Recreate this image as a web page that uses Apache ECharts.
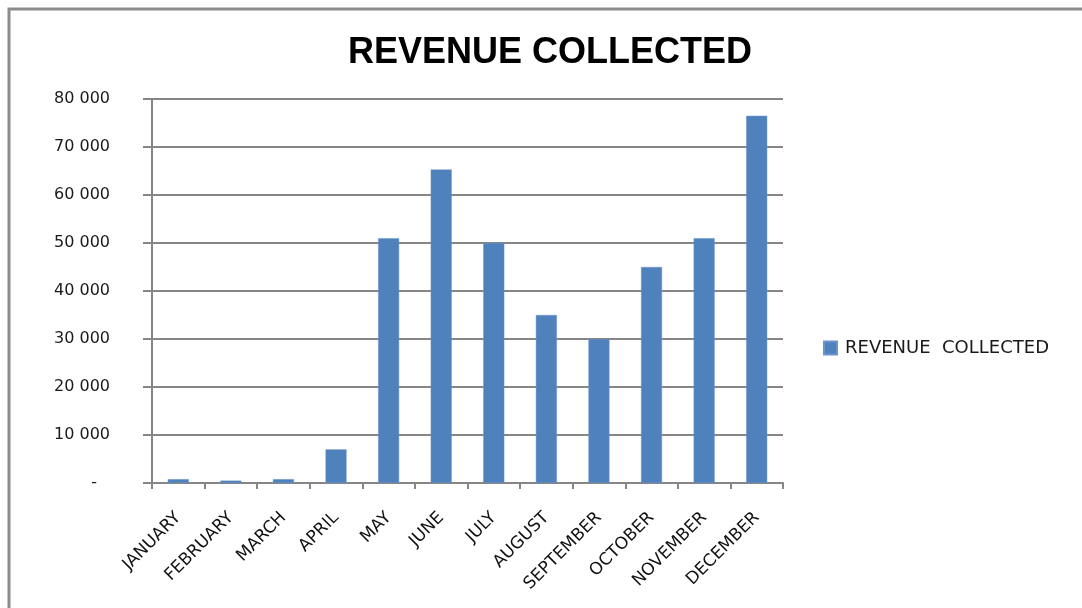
<!DOCTYPE html>
<html>
<head>
<meta charset="utf-8">
<script src="https://cdn.jsdelivr.net/npm/echarts@6/dist/echarts.min.js"></script>
<style>
html,body{margin:0;padding:0;background:#fff;}
#chart{width:1082px;height:608px;}
</style>
</head>
<body>
<div id="chart"></div>
<script>
const titleText = 'REVENUE COLLECTED';
const seriesName = 'REVENUE  COLLECTED';
const months = ['JANUARY','FEBRUARY','MARCH','APRIL','MAY','JUNE','JULY','AUGUST','SEPTEMBER','OCTOBER','NOVEMBER','DECEMBER'];
const revenue = [800, 500, 800, 7000, 51000, 65300, 50000, 35000, 30000, 45000, 51000, 76500];
const yTicks = [0, 10000, 20000, 30000, 40000, 50000, 60000, 70000, 80000];

const chart = echarts.init(document.getElementById('chart'), null, {renderer: 'canvas'});
const fmt = v => v === 0 ? '{d|-}' : String(v).replace(/\B(?=(\d{3})+(?!\d))/g, ' ');

chart.setOption({
  animation: false,
  backgroundColor: '#ffffff',
  graphic: [{
    type: 'rect',
    shape: {x: 9, y: 9, width: 1200, height: 800},
    style: {fill: 'none', stroke: '#8c8c8c', lineWidth: 3},
    silent: true
  }],
  title: {
    text: titleText,
    left: 343,
    top: 30,
    textStyle: {fontFamily: 'Liberation Sans', fontWeight: 'bold', fontSize: 36, color: '#000'}
  },
  legend: {
    left: 818,
    top: 334,
    icon: 'rect',
    itemWidth: 13,
    itemHeight: 13,
    textStyle: {fontFamily: 'DejaVu Sans', fontSize: 18, color: '#1a1a1a', padding: [0, 0, 0, 3]},
    data: [seriesName]
  },
  grid: {left: 152, right: 299, top: 99, bottom: 125, containLabel: false},
  xAxis: {
    type: 'category',
    data: months,
    axisLine: {lineStyle: {color: '#868686', width: 2}},
    axisTick: {show: true, length: 6, lineStyle: {color: '#868686', width: 2}},
    axisLabel: {
      rotate: 45, margin: 32, interval: 0,
      fontFamily: 'DejaVu Sans', fontSize: 17, color: '#111'
    }
  },
  yAxis: {
    type: 'value',
    min: 0, max: 80000, interval: 10000,
    axisLine: {show: true, lineStyle: {color: '#868686', width: 2}},
    axisTick: {show: true, length: 9, lineStyle: {color: '#868686', width: 2}},
    splitLine: {show: true, lineStyle: {color: '#868686', width: 2}},
    axisLabel: {
      margin: 42,
      fontFamily: 'DejaVu Sans', fontSize: 16, color: '#1a1a1a',
      formatter: fmt,
      rich: {d: {padding: [0, 13, 0, 0], fontFamily: 'DejaVu Sans', fontSize: 16, color: '#1a1a1a'}}
    }
  },
  series: [{
    name: seriesName,
    type: 'bar',
    data: revenue,
    barWidth: 21,
    itemStyle: {color: '#4f81bd', borderColor: '#6a95c9', borderWidth: 0.5}
  }]
});
</script>
</body>
</html>
